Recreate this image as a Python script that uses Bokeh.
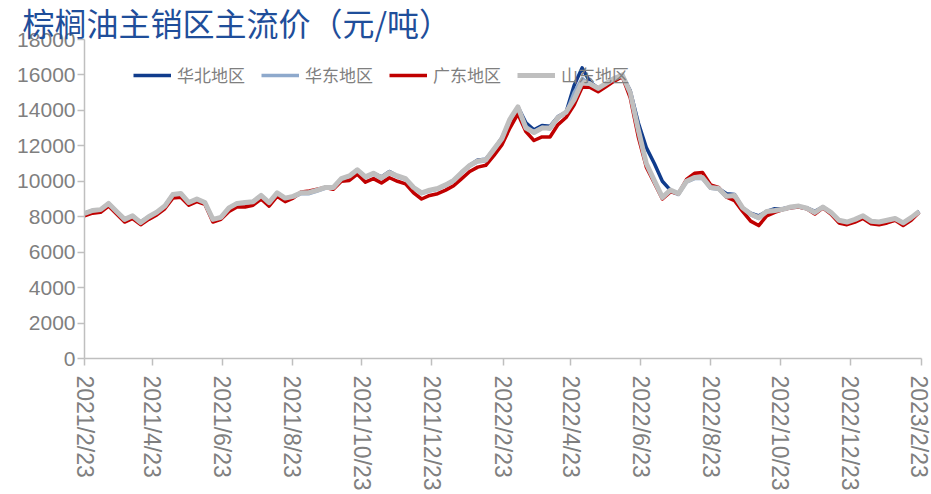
import pandas as pd
import numpy as np
from bokeh.plotting import figure
from bokeh.models import Range1d, FixedTicker, Legend, LegendItem, ColumnDataSource
from bokeh.embed import file_html
from bokeh.resources import INLINE

title_text = "棕榈油主销区主流价（元/吨）"
series_names = ["华北地区", "华东地区", "广东地区", "山东地区"]
start_date = "2021-02-23"
n_weeks = 105

tick_labels = ["2021/2/23", "2021/4/23", "2021/6/23", "2021/8/23", "2021/10/23", "2021/12/23",
               "2022/2/23", "2022/4/23", "2022/6/23", "2022/8/23", "2022/10/23", "2022/12/23",
               "2023/2/23"]
y_ticks = [0, 2000, 4000, 6000, 8000, 10000, 12000, 14000, 16000, 18000]

huabei = [8200, 8350, 8400, 8750, 8300, 7850, 8050, 7700, 8000, 8250,
          8600, 9250, 9300, 8800, 9000, 8800, 7850, 7950, 8500, 8750,
          8800, 8850, 9200, 8800, 9350, 9050, 9150, 9350, 9350, 9500,
          9650, 9650, 10150, 10300, 10650, 10250, 10450, 10250, 10550, 10300,
          10150, 9650, 9350, 9500, 9600, 9800, 10050, 10500, 10900, 11200,
          11250, 11800, 12450, 13400, 14200, 13300, 12900, 13150, 13100, 13650,
          13900, 15400, 16400, 15600, 15250, 15500, 15800, 16000, 15100, 13300,
          11900, 11000, 10000, 9500, 9300, 10000, 10200, 10200, 9650, 9600,
          9300, 9250, 8500, 8200, 8050, 8300, 8450, 8450, 8550, 8600,
          8500, 8300, 8550, 8250, 7800, 7700, 7850, 8050, 7750, 7700,
          7800, 7900, 7650, 7950, 8300]
huadong = [8150, 8300, 8350, 8700, 8250, 7800, 8000, 7650, 7950, 8200,
           8550, 9200, 9250, 8750, 8950, 8750, 7800, 7900, 8450, 8700,
           8750, 8800, 9150, 8750, 9300, 9000, 9100, 9300, 9300, 9450,
           9600, 9600, 10100, 10250, 10600, 10200, 10400, 10150, 10450, 10250,
           10100, 9600, 9300, 9450, 9550, 9750, 10000, 10450, 10850, 11100,
           11150, 11750, 12350, 13300, 14100, 13100, 12800, 13050, 12950, 13550,
           13850, 15000, 15800, 15450, 15200, 15450, 15750, 15950, 14900, 12800,
           11000, 10000, 9100, 9450, 9250, 9950, 10150, 10150, 9600, 9550,
           9100, 9150, 8450, 8100, 7900, 8250, 8300, 8400, 8500, 8550,
           8450, 8200, 8500, 8200, 7750, 7650, 7800, 8000, 7700, 7650,
           7750, 7850, 7600, 7900, 8250]
guangdong = [8050, 8200, 8250, 8600, 8150, 7700, 7900, 7550, 7850, 8100,
             8450, 9050, 9100, 8650, 8850, 8700, 7700, 7850, 8300, 8550,
             8550, 8650, 9000, 8600, 9150, 8850, 9050, 9400, 9450, 9550,
             9650, 9550, 10000, 10050, 10400, 9950, 10150, 9900, 10200, 10000,
             9850, 9350, 9000, 9200, 9300, 9500, 9750, 10150, 10550, 10800,
             10900, 11450, 12050, 13000, 13800, 12800, 12300, 12500, 12500, 13200,
             13600, 14300, 15300, 15300, 15050, 15350, 15650, 15900, 14700, 12500,
             10800, 9900, 9000, 9400, 9300, 10100, 10450, 10500, 9800, 9650,
             9100, 8900, 8300, 7750, 7500, 8050, 8250, 8400, 8500, 8550,
             8450, 8150, 8500, 8150, 7650, 7550, 7700, 7900, 7600, 7550,
             7650, 7800, 7500, 7800, 8250]
shandong = [8180, 8350, 8400, 8750, 8300, 7850, 8050, 7670, 8000, 8250,
            8600, 9250, 9310, 8800, 9000, 8800, 7850, 7960, 8500, 8750,
            8800, 8850, 9200, 8800, 9350, 9050, 9150, 9350, 9370, 9500,
            9650, 9650, 10150, 10300, 10650, 10250, 10450, 10200, 10500, 10300,
            10150, 9650, 9350, 9500, 9590, 9800, 10050, 10500, 10900, 11150,
            11200, 11800, 12400, 13500, 14200, 13000, 12750, 13000, 13000, 13600,
            13900, 14600, 15600, 15500, 15240, 15520, 15800, 16000, 15000, 12900,
            11000, 10040, 9090, 9500, 9310, 10000, 10210, 10210, 9650, 9590,
            9150, 9200, 8500, 8150, 7950, 8300, 8350, 8420, 8550, 8600,
            8480, 8240, 8550, 8250, 7800, 7700, 7850, 8050, 7750, 7700,
            7800, 7900, 7650, 7950, 8300]

colors = ["#103C8C", "#8EA9CC", "#C00000", "#BFBFBF"]
widths = [3.5, 3.5, 3.5, 5]

start = pd.Timestamp(start_date)
dates = pd.date_range(start, periods=n_weeks, freq="7D")
days = np.asarray((dates - start).days, dtype=float)
tick_days = [int((pd.to_datetime(s, format="%Y/%m/%d") - start).days) for s in tick_labels]

src = ColumnDataSource(dict(x=days, hb=huabei, hd=huadong, gd=guangdong, sd=shandong))

p = figure(width=931, height=494, output_backend="svg", toolbar_location=None,
           x_range=Range1d(0, tick_days[-1]), y_range=Range1d(0, 18000),
           min_border_left=84, min_border_right=10, min_border_top=39, min_border_bottom=136)
p.outline_line_color = None
p.xgrid.visible = False
p.ygrid.visible = False
p.background_fill_color = "white"
p.border_fill_color = "white"

renderers = []
for col, c, w in zip(["hb", "hd", "gd", "sd"], colors, widths):
    r = p.line("x", col, source=src, line_color=c, line_width=w, line_join="round")
    renderers.append(r)

for ax in (p.xaxis[0], p.yaxis[0]):
    ax.axis_line_color = "#BFBFBF"
    ax.axis_line_width = 1.5
    ax.major_tick_line_color = "#BFBFBF"
    ax.major_tick_line_width = 1.5
    ax.major_tick_out = 7
    ax.major_tick_in = 0
    ax.minor_tick_line_color = None
    ax.major_label_text_color = "#7F7F7F"
    ax.major_label_text_font = "Liberation Sans"

p.yaxis.ticker = FixedTicker(ticks=y_ticks)
p.yaxis.major_label_text_font_size = "21px"
p.yaxis.major_label_standoff = 2

p.xaxis.ticker = FixedTicker(ticks=tick_days)
p.xaxis.major_label_overrides = {d: s for d, s in zip(tick_days, tick_labels)}
p.xaxis.major_label_orientation = -np.pi / 2
p.xaxis.major_label_text_font_size = "23px"
p.xaxis.major_label_standoff = 10

p.title.text = title_text
p.title.text_font = "Noto Sans CJK SC"
p.title.text_font_size = "32px"
p.title.text_font_style = "normal"
p.title.text_color = "#1F4E9A"
p.title.align = "left"
p.title.offset = -62
p.title.standoff = -10

legend = Legend(items=[LegendItem(label=n, renderers=[r]) for n, r in zip(series_names, renderers)],
                orientation="horizontal", location=(49, 271),
                padding=0, margin=0, spacing=16, glyph_width=38, glyph_height=20,
                label_standoff=6, label_text_font="Noto Sans CJK SC", label_text_font_size="17px",
                label_text_color="#7F7F7F", background_fill_alpha=0, border_line_alpha=0)
legend.level = "underlay"
p.add_layout(legend)

open("out.html", "w").write(file_html(p, INLINE))
